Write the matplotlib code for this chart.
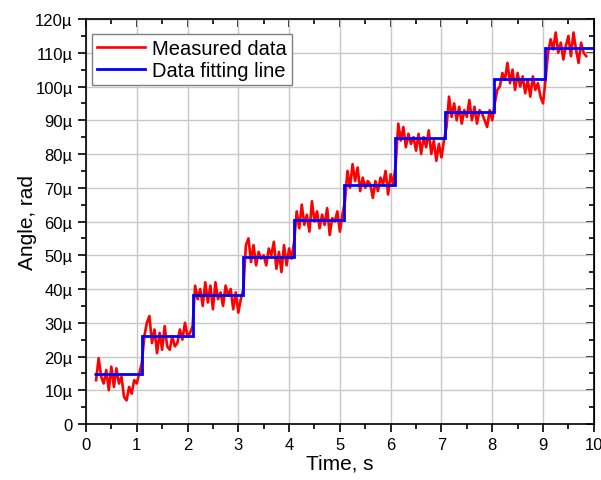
import matplotlib
matplotlib.use('Agg')
import matplotlib.pyplot as plt
from matplotlib.ticker import MultipleLocator

plt.rcParams['font.family'] = ['Liberation Sans', 'DejaVu Sans']

# measured data, time in s, angle in micro-rad
t_meas = [0.20, 0.25, 0.30, 0.35, 0.40, 0.45, 0.50, 0.55, 0.60, 0.65, 0.70, 0.75, 0.80, 0.85, 0.90, 0.95, 1.00, 1.05, 1.10,
          1.15, 1.20, 1.25, 1.30, 1.35, 1.40, 1.45, 1.50, 1.55, 1.60, 1.65, 1.70, 1.75, 1.80, 1.85, 1.90, 1.95, 2.00, 2.05, 2.10,
          2.15, 2.20, 2.25, 2.30, 2.35, 2.40, 2.45, 2.50, 2.55, 2.60, 2.65, 2.70, 2.75, 2.80, 2.85, 2.90, 2.95, 3.00, 3.05, 3.10,
          3.15, 3.20, 3.25, 3.30, 3.35, 3.40, 3.45, 3.50, 3.55, 3.60, 3.65, 3.70, 3.75, 3.80, 3.85, 3.90, 3.95, 4.00, 4.05, 4.10,
          4.15, 4.20, 4.25, 4.30, 4.35, 4.40, 4.45, 4.50, 4.55, 4.60, 4.65, 4.70, 4.75, 4.80, 4.85, 4.90, 4.95, 5.00, 5.05, 5.10,
          5.15, 5.20, 5.25, 5.30, 5.35, 5.40, 5.45, 5.50, 5.55, 5.60, 5.65, 5.70, 5.75, 5.80, 5.85, 5.90, 5.95, 6.00, 6.05, 6.10,
          6.15, 6.20, 6.25, 6.30, 6.35, 6.40, 6.45, 6.50, 6.55, 6.60, 6.65, 6.70, 6.75, 6.80, 6.85, 6.90, 6.95, 7.00, 7.05, 7.10,
          7.15, 7.20, 7.25, 7.30, 7.35, 7.40, 7.45, 7.50, 7.55, 7.60, 7.65, 7.70, 7.75, 7.80, 7.85, 7.90, 7.95, 8.00, 8.05, 8.10,
          8.15, 8.20, 8.25, 8.30, 8.35, 8.40, 8.45, 8.50, 8.55, 8.60, 8.65, 8.70, 8.75, 8.80, 8.85, 8.90, 8.95, 9.00, 9.05, 9.10,
          9.15, 9.20, 9.25, 9.30, 9.35, 9.40, 9.45, 9.50, 9.55, 9.60, 9.65, 9.70, 9.75, 9.80, 9.85]
a_meas = [13, 19.5, 14, 12, 16, 10, 17, 11, 16.5, 12, 14, 8, 7, 11, 9, 13, 12, 15, 18,
          26, 30, 32, 24, 28, 21, 27, 22, 29, 23, 22, 26, 23, 24, 28, 25, 30, 26, 27, 29,
          41, 37, 40, 35, 42, 36, 41, 34, 42, 37, 39, 35, 41, 38, 40, 34, 39, 33, 37, 40,
          53, 55, 48, 53, 47, 51, 49, 50, 47, 52, 50, 54, 46, 51, 45, 53, 47, 52, 49, 54,
          63, 58, 65, 59, 62, 57, 66, 60, 63, 58, 62, 59, 64, 56, 61, 60, 63, 57, 62, 66,
          75, 70, 77, 72, 76, 69, 73, 70, 72, 71, 67, 72, 69, 73, 71, 75, 68, 74, 71, 77,
          89, 84, 88, 82, 86, 83, 85, 81, 86, 80, 85, 82, 87, 80, 84, 78, 83, 79, 84, 88,
          97, 91, 95, 90, 94, 89, 93, 91, 96, 90, 94, 89, 93, 92, 90, 88, 93, 90, 95, 99,
          100, 104, 102, 107, 101, 105, 99, 104, 100, 103, 98, 102, 97, 103, 99, 101, 97, 95, 102, 110,
          114, 111, 116, 110, 113, 108, 112, 115, 109, 116, 111, 107, 113, 110, 109]

# fitted step line
step_edges = [0.15, 1.10, 2.10, 3.10, 4.09, 5.08, 6.08, 7.08, 8.04, 9.03, 10.0]
step_levels = [14.8, 26.0, 38.2, 49.4, 60.3, 70.8, 84.6, 92.5, 102.2, 111.3]

fig = plt.figure(figsize=(6.01, 4.81), dpi=100)
ax = fig.add_axes([0.143, 0.1164, 0.845, 0.842])

ax.plot(t_meas, a_meas, color='#ff0000', lw=1.9, label='Measured data', zorder=3)
ax.stairs(step_levels, step_edges, color='#0000ff', lw=2.0, baseline=None,
          label='Data fitting line', zorder=4)

ax.set_xlim(0, 10)
ax.set_ylim(0, 120)
ax.xaxis.set_major_locator(MultipleLocator(1))
ax.xaxis.set_minor_locator(MultipleLocator(0.5))
yt = list(range(0, 121, 10))
ax.set_yticks(yt)
ax.set_yticklabels(['0'] + [f'{v}µ' for v in yt[1:]])
ax.yaxis.set_minor_locator(MultipleLocator(5))
ax.grid(True, which='major', color='#c8c8c8', lw=1.0)
ax.set_axisbelow(True)

ax.tick_params(which='both', direction='out', width=1.2, labelsize=12)
ax.tick_params(which='major', length=6)
ax.tick_params(which='minor', length=3.5)
for s in ax.spines.values():
    s.set_linewidth(1.2)

# mirrored ticks on top and right
top = ax.secondary_xaxis('top')
top.xaxis.set_major_locator(MultipleLocator(1))
top.xaxis.set_minor_locator(MultipleLocator(0.5))
top.tick_params(which='both', direction='in', width=1.2, labeltop=False)
top.tick_params(which='major', length=6)
top.tick_params(which='minor', length=3.5)
right = ax.secondary_yaxis('right')
right.yaxis.set_major_locator(MultipleLocator(10))
right.yaxis.set_minor_locator(MultipleLocator(5))
right.tick_params(which='both', direction='in', width=1.2, labelright=False)
right.tick_params(which='major', length=6)
right.tick_params(which='minor', length=3.5)

ax.set_xlabel('Time, s', fontsize=15, labelpad=1)
ax.set_ylabel('Angle, rad', fontsize=15, labelpad=-1)

leg = ax.legend(loc='upper left', bbox_to_anchor=(0.012, 0.962), borderaxespad=0,
                fontsize=14.5, fancybox=False, framealpha=1,
                edgecolor='#808080', borderpad=0.25, handlelength=2.4,
                handletextpad=0.35, labelspacing=0.15)
leg.get_frame().set_linewidth(1.0)

fig.savefig('out.png', dpi=100)
